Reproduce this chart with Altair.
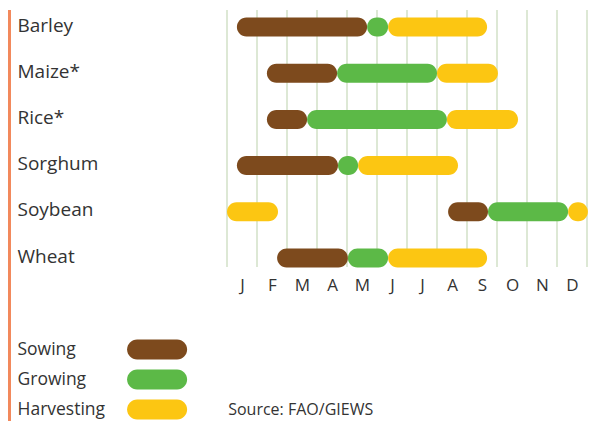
import altair as alt
import pandas as pd

crops = ["Barley", "Maize*", "Rice*", "Sorghum", "Soybean", "Wheat"]
months = ["J", "F", "M", "A", "M", "J", "J", "A", "S", "O", "N", "D"]
phases = ["Sowing", "Growing", "Harvesting"]
colors = ["#7d4a1d", "#5cb947", "#fcc612"]

seg_crop = ["Barley", "Barley", "Barley",
            "Maize*", "Maize*", "Maize*",
            "Rice*", "Rice*", "Rice*",
            "Sorghum", "Sorghum", "Sorghum",
            "Soybean", "Soybean", "Soybean", "Soybean",
            "Wheat", "Wheat", "Wheat"]
seg_phase = ["Sowing", "Growing", "Harvesting",
             "Sowing", "Growing", "Harvesting",
             "Sowing", "Growing", "Harvesting",
             "Sowing", "Growing", "Harvesting",
             "Harvesting", "Sowing", "Growing", "Harvesting",
             "Sowing", "Growing", "Harvesting"]
seg_start = [0.33, 4.67, 5.37,
             1.33, 3.67, 7.0,
             1.33, 2.67, 7.33,
             0.33, 3.7, 4.37,
             0.0, 7.37, 8.7, 11.37,
             1.67, 4.03, 5.37]
seg_end = [4.67, 5.37, 8.67,
           3.67, 7.0, 9.03,
           2.67, 7.33, 9.7,
           3.7, 4.37, 7.7,
           1.7, 8.7, 11.37, 12.03,
           4.03, 5.37, 8.67]

boundaries = list(range(13))
source_text = "Source: FAO/GIEWS"

FONT = "Open Sans"
TXT = "#333333"

df = pd.DataFrame({"crop": seg_crop, "phase": seg_phase,
                   "start": seg_start, "end": seg_end})
grid = pd.DataFrame({"m": boundaries})

month_expr = "[" + ",".join("'%s'" % m for m in months) + "][floor(datum.value)]"
xaxis = alt.Axis(values=[i + 0.5 for i in range(12)], labelExpr=month_expr,
                 ticks=False, domain=False, grid=False, title=None,
                 labelFontSize=17, labelFont=FONT, labelColor=TXT,
                 labelPadding=10)
xscale = alt.Scale(domain=[0, 12], nice=False, zero=False)
color = alt.Color("phase:N", scale=alt.Scale(domain=phases, range=colors),
                  legend=None)

rules = alt.Chart(grid).mark_rule(color="#dde8d5", strokeWidth=2).encode(
    x=alt.X("m:Q", scale=xscale, axis=xaxis)
)
bars = alt.Chart(df).mark_bar(height=19, cornerRadius=9.5).encode(
    x=alt.X("start:Q", scale=xscale, axis=xaxis),
    x2="end:Q",
    y=alt.Y("crop:N",
            scale=alt.Scale(type="point", domain=crops, padding=0.2814, align=0.654),
            axis=alt.Axis(title=None, ticks=False, tickSize=0, domain=False,
                          labelAlign="left", labelPadding=210, maxExtent=400,
                          labelOffset=-2,
                          labelFontSize=19, labelFont=FONT, labelColor=TXT)),
    color=color,
)
main = alt.layer(rules, bars).properties(width=360, height=257)

leg_df = pd.DataFrame({"phase": phases, "start": [0, 0, 0], "end": [2, 2, 2]})
src_df = pd.DataFrame({"text": [source_text], "phase": ["Harvesting"], "x": [3.37]})
leg_x = alt.Scale(domain=[3.33, 13.33], nice=False, zero=False)
leg_y = alt.Scale(type="point", domain=phases, padding=0.25)
legend_bars = alt.Chart(leg_df).mark_bar(height=20, cornerRadius=10).encode(
    x=alt.X("start:Q", scale=leg_x, axis=None),
    x2="end:Q",
    y=alt.Y("phase:N", scale=leg_y,
            axis=alt.Axis(title=None, ticks=False, tickSize=0, domain=False,
                          labelAlign="left", labelPadding=210, maxExtent=400,
                          labelFontSize=17.5, labelFont=FONT, labelColor=TXT)),
    color=color,
)
src = alt.Chart(src_df).mark_text(align="left", fontSize=16, font=FONT,
                                  color=TXT).encode(
    x=alt.X("x:Q", scale=leg_x, axis=None),
    y=alt.Y("phase:N", scale=leg_y),
    text="text:N",
)
border = alt.Chart(src_df).mark_rule(color="#f2895c", strokeWidth=3).encode(
    x=alt.value(-217.5), y=alt.value(-332), y2=alt.value(81)
)
legend = alt.layer(legend_bars, src, border).properties(width=300, height=75)

chart = alt.vconcat(main, legend, spacing=75, bounds="flush").properties(
    padding={"left": 0, "top": 0, "right": 0, "bottom": 0}
).configure_view(stroke=None)

chart.save("out.html", embed_options={"renderer": "svg", "actions": False})
